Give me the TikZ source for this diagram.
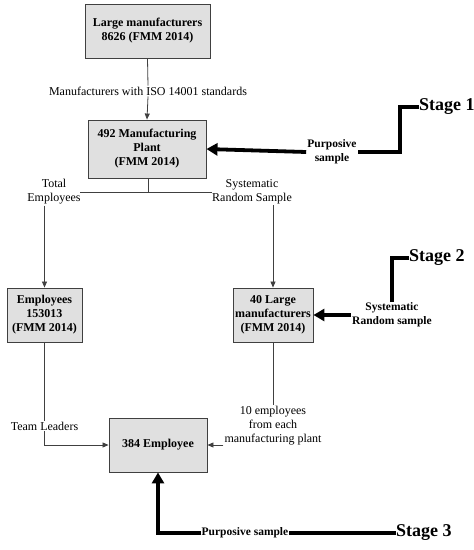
\documentclass[tikz,border=0pt]{standalone}
\usepackage{fontspec}
\setmainfont{Liberation Serif}
\usetikzlibrary{arrows.meta,positioning}
\begin{document}
\begin{tikzpicture}[x=1pt,y=-1pt,
  box/.style={draw=black!75,line width=0.9pt,fill=black!12,align=center,font=\fontsize{12}{14}\selectfont\bfseries,inner sep=0pt},
  lbl/.style={align=center,font=\fontsize{12}{14}\selectfont,inner sep=1pt},
  plbl/.style={align=center,font=\fontsize{11.5}{14}\selectfont\bfseries,inner sep=1pt},
  stg/.style={font=\fontsize{18}{20}\selectfont\bfseries,inner sep=0pt,anchor=west},
  thin/.style={draw=black!75,line width=0.8pt},
  thinarr/.style={thin,-{Triangle[length=6pt,width=5pt]}},
  thick/.style={draw=black,line width=3.8pt},
  thickarr/.style={thick,-{Triangle[length=11pt,width=12pt]}}]
\useasboundingbox (0,0) rectangle (474,550);
% boxes
\node[box,minimum width=125pt,minimum height=54pt] (b1) at (147.5,31) {Large manufacturers\\8626 (FMM 2014)};
\node[box,minimum width=118pt,minimum height=58pt] (b2) at (147,149) {492 Manufacturing\\Plant\\(FMM 2014)};
\node[box,minimum width=75pt,minimum height=54pt] (b3) at (44.5,315) {Employees\\153013\\(FMM 2014)};
\node[box,minimum width=80pt,minimum height=54pt] (b4) at (273,315) {40 Large\\manufacturers\\(FMM 2014)};
\node[box,minimum width=98pt,minimum height=54pt] (b5) at (158,445) {384 Employee};
% labels
\node[lbl,fill=white] (iso) at (148,91) {Manufacturers with ISO 14001 standards};
\node[lbl] (te) at (54,192) {Total\\Employees};
\node[lbl] (srs) at (252,192) {Systematic\\Random Sample};
\node[lbl] (tl) at (44.5,426) {Team Leaders};
\node[lbl] (emp) at (273,426) {10 employees\\from each\\manufacturing plant};
\coordinate (jl) at (80,192);
\coordinate (jr) at (212,192);
\coordinate (jc) at (148,192);
% connectors
\draw[thin] (b1.south) -- (iso.north);
\draw[thinarr] (iso.south) -- (b2.north);
\draw[thin] (b2.south -| jc) -- (jc);
\draw[thin] (jl) -- (jr);
\draw[thinarr] (te.south -| b3.north) -- (b3.north);
\draw[thinarr] (srs.south -| b4.north) -- (b4.north);
\draw[thin] (b3.south) -- (tl.north);
\draw[thinarr] (tl.south) |- (b5.west);
\draw[thin] (b4.south) -- (emp.north);
\draw[thinarr] (emp.west |- b5.east) -- (b5.east);
% stage 1
\node[stg] (s1) at (419,107) {Stage 1};
\node[plbl] (p1) at (332,152) {Purposive\\sample};
\coordinate (c1) at (400,152);
\draw[thick] (s1.west) -| (c1) -- (p1.east);
\draw[thickarr] (p1.west) -- (b2.east);
% stage 2
\node[stg] (s2) at (409,258) {Stage 2};
\node[plbl] (p2) at (392,315) {Systematic\\Random sample};
\draw[thick] (s2.west) -| (p2.north);
\draw[thickarr] (p2.west) -- (b4.east);
% stage 3
\node[stg] (s3) at (396,533) {Stage 3};
\node[plbl] (p3) at (245,533) {Purposive sample};
\draw[thick] (s3.west) -- (p3.east);
\draw[thickarr] (p3.west) -| (b5.south);
\end{tikzpicture}
\end{document}
